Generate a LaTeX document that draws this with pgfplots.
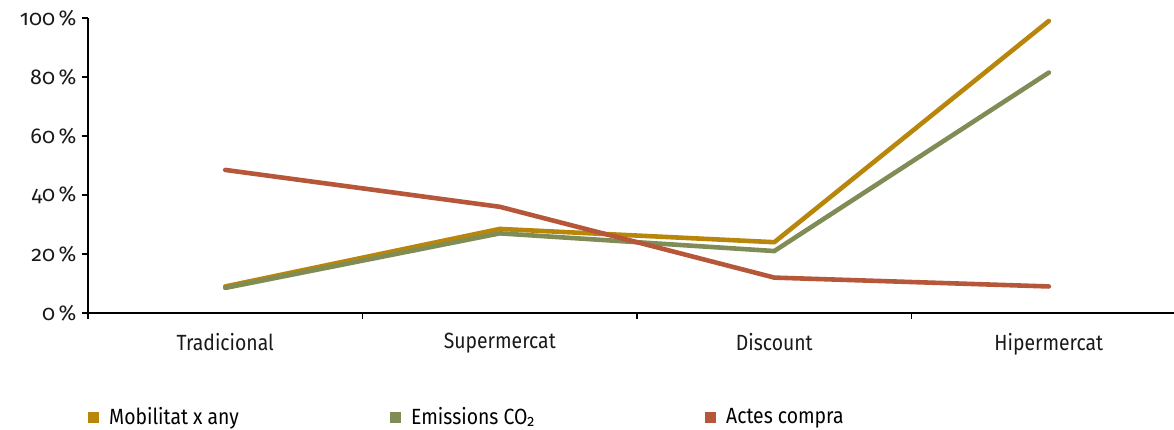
\documentclass[border=0pt]{standalone}
\usepackage{pgfplots}
\pgfplotsset{compat=1.18}
\usepackage{fontspec}
\setmainfont{Fira Sans}[Numbers=OldStyle, FakeStretch=0.88]
\newfontfamily\numfont{Fira Sans}[Numbers=OldStyle]
\definecolor{cgold}{RGB}{184,134,11}
\definecolor{cgreen}{RGB}{128,140,85}
\definecolor{cred}{RGB}{182,87,58}
\begin{document}
\begin{tikzpicture}
\useasboundingbox (-88pt,-116pt) rectangle (1086pt,313pt);
\begin{axis}[
  at={(0pt,0pt)}, anchor=south west,
  scale only axis,
  width=1086pt, height=295pt,
  xmin=-0.5, xmax=3.456,
  ymin=0, ymax=100,
  axis x line=bottom, axis y line=left,
  axis line style={line width=1.6pt, -},
  xtick={0,1,2,3},
  xticklabels={Tradicional,Supermercat,Discount,Hipermercat},
  major x tick style={draw=none},
  minor xtick={-0.5,0.5,1.5,2.5},
  minor tick length=6pt,
  minor x tick style={line width=1.6pt, black},
  tick align=outside,
  ytick={0,20,40,60,80,100},
  major tick length=6pt,
  major y tick style={line width=1.6pt, black},
  yticklabel={\pgfmathprintnumber{\tick}\,\%},
  /pgf/number format/assume math mode=true,
  xticklabel style={font=\fontsize{22}{24}\selectfont, text=black!90, yshift=-11pt},
  yticklabel style={font=\numfont\fontsize{21.5}{24}\selectfont, text=black!90, xshift=-2pt},
  clip=false,
  legend columns=3,
  legend cell align=left,
  legend style={draw=none, fill=none, at={(0,0)}, anchor=west, xshift=0pt, yshift=-104pt,
    font=\fontsize{22}{24}\selectfont, inner sep=0pt, nodes={inner sep=0pt},
    /tikz/every even column/.append style={column sep=0pt}},
  legend image code/.code={\fill[#1, draw=none] (0pt,-5.5pt) rectangle (11pt,5.5pt);},
]
\addplot[cgold, line width=4.6pt, line cap=round, line join=round] coordinates {(0,9) (1,28.5) (2,24) (3,99)};
\addlegendentry{\makebox[291pt][l]{\hspace*{10pt}Mobilitat x any}}
\addplot[cgreen, line width=4.6pt, line cap=round, line join=round] coordinates {(0,8.5) (1,27) (2,21) (3,81.5)};
\addlegendentry{\makebox[304pt][l]{\hspace*{10pt}Emissions CO\raisebox{-1.5pt}{\fontsize{16}{18}\selectfont 2}}}
\addplot[cred, line width=4.6pt, line cap=round, line join=round] coordinates {(0,48.5) (1,36) (2,12) (3,9)};
\addlegendentry{\hspace*{10pt}Actes compra}
\end{axis}
\end{tikzpicture}
\end{document}
